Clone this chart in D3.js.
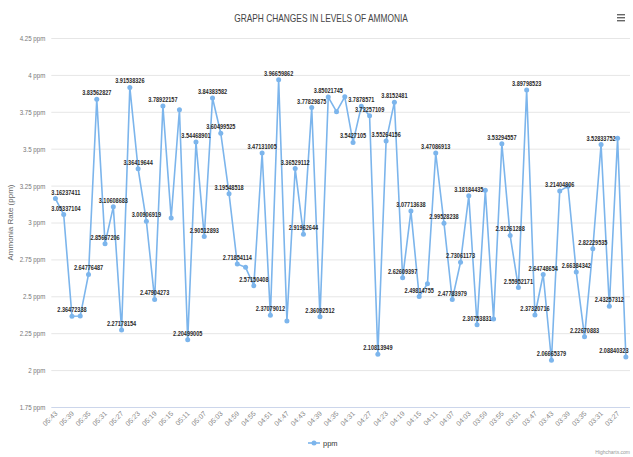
<!DOCTYPE html>
<html>
<head>
<meta charset="utf-8">
<script src="https://cdn.jsdelivr.net/npm/d3@7"></script>
<style>
  body { margin: 0; background: #fff; }
  svg { display: block; }
  text { font-family: "Liberation Sans", "Noto Sans", sans-serif; }
</style>
</head>
<body>
<div id="chart"></div>
<script>
// time of each reading (minutes counting down)
const categories = [
  "05:43","05:41","05:39","05:37","05:35","05:33","05:31","05:29","05:27","05:25",
  "05:23","05:21","05:19","05:17","05:15","05:13","05:11","05:09","05:07","05:05",
  "05:03","05:01","04:59","04:57","04:55","04:53","04:51","04:49","04:47","04:45",
  "04:43","04:41","04:39","04:37","04:35","04:33","04:31","04:29","04:27","04:25",
  "04:23","04:21","04:19","04:17","04:15","04:13","04:11","04:09","04:07","04:05",
  "04:03","04:01","03:59","03:57","03:55","03:53","03:51","03:49","03:47","03:45",
  "03:43","03:41","03:39","03:37","03:35","03:33","03:31","03:29","03:27","03:25"
];

// ammonia level, ppm
const ppm = [
  3.16237411, 3.05337104, 2.36472338, 2.3662, 2.64776487, 3.83562827, 2.85667206, 3.10608683, 2.27178154, 3.91538326,
  3.36419644, 3.00906919, 2.47904273, 3.78922157, 3.030, 3.764, 2.20499005, 3.54468901, 2.90512893, 3.84383582,
  3.60499525, 3.19548518, 2.71854114, 2.696, 2.57150408, 3.47131005, 2.37079012, 3.96659862, 2.333, 3.36529112,
  2.91962644, 3.77829875, 2.36092512, 3.85021745, 3.751, 3.852, 3.5427105, 3.7878571, 3.72257109, 2.10813949,
  3.55264156, 3.8152481, 2.62609397, 3.07713638, 2.49814755, 2.585, 3.47086913, 2.99528238, 2.47783979, 2.73061173,
  3.18184435, 2.30753831, 3.218, 2.346, 3.53294557, 2.91261288, 2.55952171, 3.89798523, 2.37320716, 2.64748654,
  2.06665379, 3.21404806, 3.245, 2.66384342, 2.22670883, 2.82229535, 3.52833752, 2.43257312, 3.570, 2.08840323
];

const yTicks = [1.75, 2, 2.25, 2.5, 2.75, 3, 3.25, 3.5, 3.75, 4, 4.25];
const xTickLabels = categories.filter((d, i) => i % 2 === 0);

const chartTitle = "GRAPH CHANGES IN LEVELS OF AMMONIA";
const yTitle = "Ammonia Rate (ppm)";
const seriesName = "ppm";

const width = 633, height = 457;
const plotLeft = 51.3, plotRight = 630, plotTop = 38, plotBottom = 407;
const lineColor = "#7cb5ec";
const squeeze = 0.74; // original labels use a condensed face

// squeeze text horizontally, the original font is a condensed one
function narrow(sel, k) {
  sel.each(function () {
    const w = this.getComputedTextLength();
    d3.select(this).attr("textLength", w * k).attr("lengthAdjust", "spacingAndGlyphs");
  });
}

const svg = d3.select("#chart").append("svg")
  .attr("width", width)
  .attr("height", height);

const x = d3.scalePoint().domain(categories).range([plotLeft, plotRight]).padding(0.5);
const y = d3.scaleLinear().domain([1.75, 4.25]).range([plotBottom, plotTop]);

// title
svg.append("text")
  .attr("x", 321).attr("y", 22)
  .attr("text-anchor", "middle")
  .attr("font-size", 11)
  .attr("fill", "#444")
  .text(chartTitle)
  .call(narrow, 0.76);

// menu icon
[0, 1, 2].forEach(i => {
  svg.append("rect")
    .attr("x", 617).attr("y", 14 + i * 3)
    .attr("width", 8).attr("height", 1.4)
    .attr("fill", "#666");
});

// grid + y axis labels
const yAxis = d3.axisLeft(y).tickValues(yTicks)
  .tickSize(-(plotRight - plotLeft))
  .tickPadding(6)
  .tickFormat(d => d + " ppm");

const gy = svg.append("g")
  .attr("transform", `translate(${plotLeft},0)`)
  .call(yAxis);
gy.select(".domain").remove();
gy.selectAll(".tick line").attr("stroke", "#e6e6e6");
gy.selectAll(".tick text").attr("fill", "#777").attr("font-size", 7.5)
  .attr("font-family", "'Liberation Sans', sans-serif")
  .call(narrow, 0.82);
// bottom line is the x axis line
gy.selectAll(".tick").filter(d => d === 1.75).select("line").attr("stroke", "#ccd6eb");

// y title
svg.append("text")
  .attr("transform", `translate(13,${(plotTop + plotBottom) / 2}) rotate(-90)`)
  .attr("text-anchor", "middle")
  .attr("font-size", 8)
  .attr("fill", "#666")
  .text(yTitle);

// x axis labels
const xAxis = d3.axisBottom(x).tickValues(xTickLabels).tickSize(0).tickPadding(0);
const gx = svg.append("g")
  .attr("transform", `translate(0,${plotBottom})`)
  .call(xAxis);
gx.select(".domain").remove();
gx.selectAll(".tick text")
  .attr("fill", "#888")
  .attr("font-size", 7)
  .attr("font-family", "'Liberation Sans', sans-serif")
  .attr("text-anchor", "end")
  .attr("dy", null)
  .attr("transform", "translate(2,7) rotate(-45)");

// line
const line = d3.line().x((d, i) => x(categories[i])).y(d => y(d));
svg.append("path")
  .datum(ppm)
  .attr("fill", "none")
  .attr("stroke", lineColor)
  .attr("stroke-width", 1.6)
  .attr("d", line);

svg.selectAll(".pt")
  .data(ppm)
  .enter()
  .append("circle")
  .attr("class", "pt")
  .attr("cx", (d, i) => x(categories[i]))
  .attr("cy", d => y(d))
  .attr("r", 2.5)
  .attr("fill", lineColor);

// data labels, hide the ones that collide with an earlier label
// (collision box sized for a full 8-decimal reading)
const labels = svg.append("g");
const shown = [];
ppm.forEach((v, i) => {
  const px = x(categories[i]), py = y(v);
  const t = labels.append("text")
    .attr("font-size", 7.5)
    .attr("font-weight", "bold")
    .attr("fill", "#2a2a2a")
    .attr("text-anchor", "middle")
    .text(v.toFixed(8));
  const full = t.node().getComputedTextLength() * squeeze;
  t.text(v);
  const w = t.node().getComputedTextLength() * squeeze;
  let cx = px;
  const right = plotRight - 1.5;
  if (cx - w / 2 < plotLeft) cx = plotLeft + w / 2;
  if (cx + w / 2 > right) cx = right - w / 2;
  const by = py - 4;
  const box = { x0: cx - full / 2, x1: cx + full / 2, y0: by - 7, y1: by + 1 };
  const hit = shown.some(b => b.x0 < box.x1 && box.x0 < b.x1 && b.y0 < box.y1 && box.y0 < b.y1);
  if (hit) { t.remove(); return; }
  shown.push(box);
  t.attr("transform", `translate(${cx},${by}) scale(${squeeze},1)`);
});

// legend
const lg = svg.append("g").attr("transform", "translate(316,443)");
lg.append("line").attr("x1", -8).attr("x2", 4).attr("stroke", lineColor).attr("stroke-width", 1.6);
lg.append("circle").attr("cx", -2).attr("r", 2.5).attr("fill", lineColor);
lg.append("text").attr("x", 7).attr("y", 2.5)
  .attr("font-size", 7.5).attr("fill", "#333").text(seriesName);

// credits
svg.append("text")
  .attr("x", 630).attr("y", 454)
  .attr("text-anchor", "end")
  .attr("font-size", 5)
  .attr("fill", "#999")
  .text("Highcharts.com");
</script>
</body>
</html>
